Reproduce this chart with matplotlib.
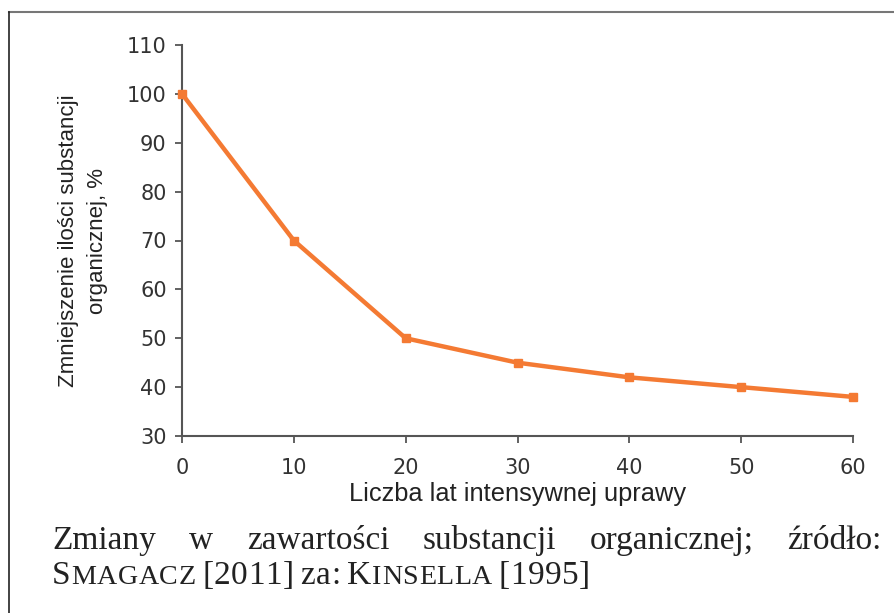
import matplotlib.pyplot as plt
from matplotlib.lines import Line2D

years = [0, 10, 20, 30, 40, 50, 60]
reduction = [100, 70, 50, 45, 42, 40, 38]
x_ticks = [0, 10, 20, 30, 40, 50, 60]
y_ticks = [30, 40, 50, 60, 70, 80, 90, 100, 110]

caption_line1 = "Zmiany w zawartości substancji organicznej; źródło:"
# second line in small caps: (text, is_small)
caption_line2 = [("S", False), ("MAGACZ", True), (" [2011] za: ", False),
                 ("K", False), ("INSELLA", True), (" [1995]", False)]

plt.rcParams['font.family'] = ['Liberation Sans', 'DejaVu Sans']

fig = plt.figure(figsize=(8.94, 6.13), dpi=100)
ax = fig.add_axes([182 / 894, 1 - 436 / 613, (853 - 182) / 894, (436 - 45) / 613])

ax.plot(years, reduction, color='#F47A33', lw=3.2, marker='s', ms=6,
        solid_joinstyle='round', clip_on=False, zorder=5)

ax.set_xlim(0, 60)
ax.set_ylim(30, 110)
ax.set_xticks(x_ticks)
ax.set_yticks(y_ticks)
for s in ['top', 'right']:
    ax.spines[s].set_visible(False)
for s in ['left', 'bottom']:
    ax.spines[s].set_color('#555555')
    ax.spines[s].set_linewidth(1.5)
ax.tick_params(axis='both', direction='out', length=5, width=1.3,
               color='#555555', labelsize=15, labelcolor='#333333')
ax.tick_params(axis='x', pad=11)
ax.tick_params(axis='y', pad=6)
for lab in ax.get_xticklabels() + ax.get_yticklabels():
    lab.set_family(['DejaVu Sans'])

ax.set_xlabel("Liczba lat intensywnej uprawy", fontsize=18.3, color='#222222', labelpad=3)
ax.set_ylabel("Zmniejszenie ilości substancji\norganicznej, %", fontsize=16,
              color='#222222', labelpad=14, linespacing=1.45)

# frame of the figure (top and left only)
fig.add_artist(Line2D([9 / 894, 1], [1 - 12 / 613, 1 - 12 / 613], color='#777777', lw=1.5))
fig.add_artist(Line2D([9 / 894, 9 / 894], [1 - 12 / 613, 0], color='#222222', lw=1.2))

# caption, justified first line
fig.canvas.draw()
renderer = fig.canvas.get_renderer()
serif = ['Liberation Serif', 'DejaVu Serif']
fs = 24
left_px, right_px = 52, 881
y1 = 1 - 549 / 613
y2 = 1 - 584 / 613

words = caption_line1.split(" ")
arts = [fig.text(0, y1, w, fontsize=fs, family=serif, color='#222222', va='baseline')
        for w in words]
widths = [a.get_window_extent(renderer).width for a in arts]
gap = (right_px - left_px - sum(widths)) / (len(words) - 1)
xpos = left_px
for a, w in zip(arts, widths):
    a.set_x(xpos / 894)
    xpos += w + gap

# second line, small caps with a little letter spacing
xpos = left_px
for txt, small in caption_line2:
    for ch in txt:
        if ch == " ":
            xpos += 6
            continue
        a = fig.text(xpos / 894, y2, ch, fontsize=fs * 0.84 if small else fs,
                     family=serif, color='#222222', va='baseline')
        xpos += a.get_window_extent(renderer).width + 0.6

fig.savefig("out.png", dpi=100)
